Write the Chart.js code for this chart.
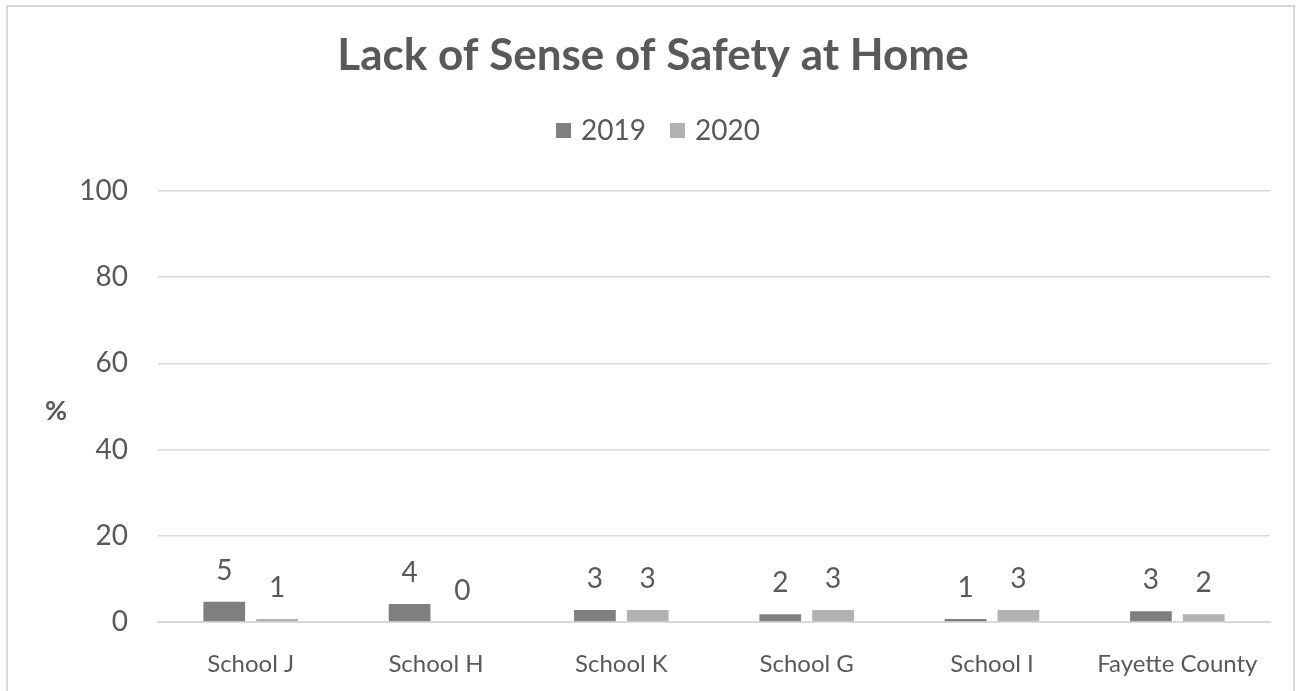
<!DOCTYPE html>
<html><head><meta charset="utf-8">
<script src="https://cdn.jsdelivr.net/npm/chart.js@4"></script>
<style>
html,body{margin:0;padding:0;background:#fff;overflow:hidden}
#wrap{position:absolute;left:0;top:0;width:1300px;height:691px;overflow:hidden}
#frame{position:absolute;left:6px;top:5px;width:1289px;height:720px;border:2px solid #d9d9d9;box-sizing:border-box}
canvas{position:absolute;left:0;top:0}
</style></head>
<body><div id="wrap"><div id="frame"></div><canvas id="c" width="1300" height="691"></canvas></div>
<script>
const chartTitle = "Lack of Sense of Safety at Home";
const categories = ["School J", "School H", "School K", "School G", "School I", "Fayette County"];
const seriesNames = ["2019", "2020"];
const values2019 = [4.7, 4.2, 2.8, 1.8, 0.7, 2.5];
const values2020 = [0.7, 0, 2.8, 2.8, 2.8, 1.8];
const yTicks = [0, 20, 40, 60, 80, 100];
const yAxisLabel = "%";
const colors = ["#7f7f7f", "#b2b2b2"];
const textColor = "#595959";
const FONT = "Lato, 'Open Sans', sans-serif";

const overlay = {
  id: "overlay",
  afterDatasetsDraw(chart) {
    const ctx = chart.ctx;
    ctx.save();
    // data labels
    ctx.fillStyle = textColor;
    ctx.font = "28px " + FONT;
    ctx.textAlign = "center";
    ctx.textBaseline = "middle";
    chart.data.datasets.forEach((ds, i) => {
      const meta = chart.getDatasetMeta(i);
      meta.data.forEach((bar, j) => {
        ctx.fillText(String(Math.round(ds.data[j])), bar.x, bar.y - 31);
      });
    });
    // title
    ctx.font = "bold 44px " + FONT;
    ctx.fillText(chartTitle, 653, 56);
    // y axis label
    ctx.font = "bold 27px " + FONT;
    ctx.fillText(yAxisLabel, 56, 411);
    // legend
    ctx.font = "28px " + FONT;
    ctx.textAlign = "left";
    const box = 15, gap1 = 10, gap2 = 24;
    let total = 0;
    const ws = chart.data.datasets.map(d => ctx.measureText(d.label).width);
    ws.forEach((w, i) => { total += box + gap1 + w + (i < ws.length - 1 ? gap2 : 0); });
    let x = 658 - total / 2;
    chart.data.datasets.forEach((d, i) => {
      ctx.fillStyle = d.backgroundColor;
      ctx.fillRect(x, 123, box, box);
      ctx.fillStyle = textColor;
      ctx.fillText(d.label, x + box + gap1, 131);
      x += box + gap1 + ws[i] + gap2;
    });
    ctx.restore();
  }
};

new Chart(document.getElementById("c"), {
  type: "bar",
  data: {
    labels: categories,
    datasets: [
      { label: seriesNames[0], data: values2019, backgroundColor: colors[0], barPercentage: 0.79, categoryPercentage: 0.57 },
      { label: seriesNames[1], data: values2020, backgroundColor: colors[1], barPercentage: 0.79, categoryPercentage: 0.57 }
    ]
  },
  options: {
    responsive: false,
    animation: false,
    layout: { padding: { top: 191, right: 30, left: 0, bottom: 0 } },
    plugins: { legend: { display: false }, title: { display: false }, tooltip: { enabled: false } },
    scales: {
      y: {
        min: 0, max: 100,
        afterBuildTicks: s => { s.ticks = yTicks.map(v => ({ value: v })); },
        afterFit: s => { s.width = 158; },
        ticks: { color: textColor, font: { size: 28, family: FONT }, padding: 30 },
        grid: { color: "#d9d9d9", lineWidth: 1.5, drawTicks: false },
        border: { display: false }
      },
      x: {
        afterFit: s => { s.height = 69; },
        ticks: { color: textColor, font: { size: 24, family: FONT }, padding: 28, maxRotation: 0, autoSkip: false },
        grid: { display: false, drawTicks: false },
        border: { color: "#d9d9d9", width: 2 }
      }
    }
  },
  plugins: [overlay]
});
</script>
</body></html>
